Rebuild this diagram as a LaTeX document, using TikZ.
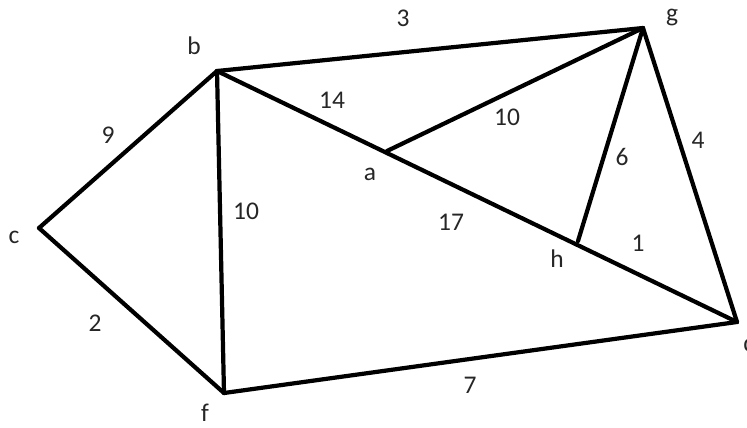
\documentclass[tikz,border=0pt]{standalone}
\usepackage{fontspec}
\setmainfont{Carlito}
\usepackage{xcolor}
\definecolor{edgeclr}{rgb}{0,0,0}
\definecolor{txtclr}{rgb}{0.15,0.15,0.15}
\usepackage{tikz}
\usetikzlibrary{positioning}

\begin{document}
\begin{tikzpicture}[
  x=0.02cm, y=-0.02cm,
  edge/.style={draw=edgeclr, line width=2.4pt, line cap=round, line join=round},
  vname/.style={font=\fontsize{14.5}{16}\selectfont, text=txtclr, inner sep=0pt},
  wlabel/.style={font=\fontsize{14.5}{16}\selectfont, text=txtclr, inner sep=0pt},
]
\clip (0,0) rectangle (747,427);

% Vertices
\coordinate (b) at (217,71);
\coordinate (g) at (643,28);
\coordinate (a) at (387,151);
\coordinate (c) at (39,228);
\coordinate (h) at (578,241);
\coordinate (f) at (224,393);
\coordinate (d) at (737,322);

% Edges
\draw[edge] (b) -- (g);
\draw[edge] (b) -- (c);
\draw[edge] (c) -- (f);
\draw[edge] (b) -- (f);
\draw[edge] (b) -- (d);
\draw[edge] (a) -- (g);
\draw[edge] (h) -- (g);
\draw[edge] (g) -- (d);
\draw[edge] (f) -- (d);

% Vertex names
\node[vname] (bl) at (194,46) {b};
\node[vname] (gl) at (672,18) {g};
\node[vname] (al) at (370,174) {a};
\node[vname] (cl) at (14,237) {c};
\node[vname] (hl) at (557,259) {h};
\node[vname] (fl) at (205,413) {f};
\node[vname] (dl) at (750,343) {d};

% Edge weights
\node[wlabel] (w3) at (403,18) {3};
\node[wlabel] (w9) at (108,135) {9};
\node[wlabel] (w2) at (95,323) {2};
\node[wlabel] (w10a) at (246,211) {10};
\node[wlabel] (w14) at (332,100) {14};
\node[wlabel] (w10b) at (507,117) {10};
\node[wlabel] (w6) at (622,157) {6};
\node[wlabel] (w4) at (698,140) {4};
\node[wlabel] (w17) at (451,222) {17};
\node[wlabel] (w1) at (638,243) {1};
\node[wlabel] (w7) at (470,385) {7};
\end{tikzpicture}
\end{document}
